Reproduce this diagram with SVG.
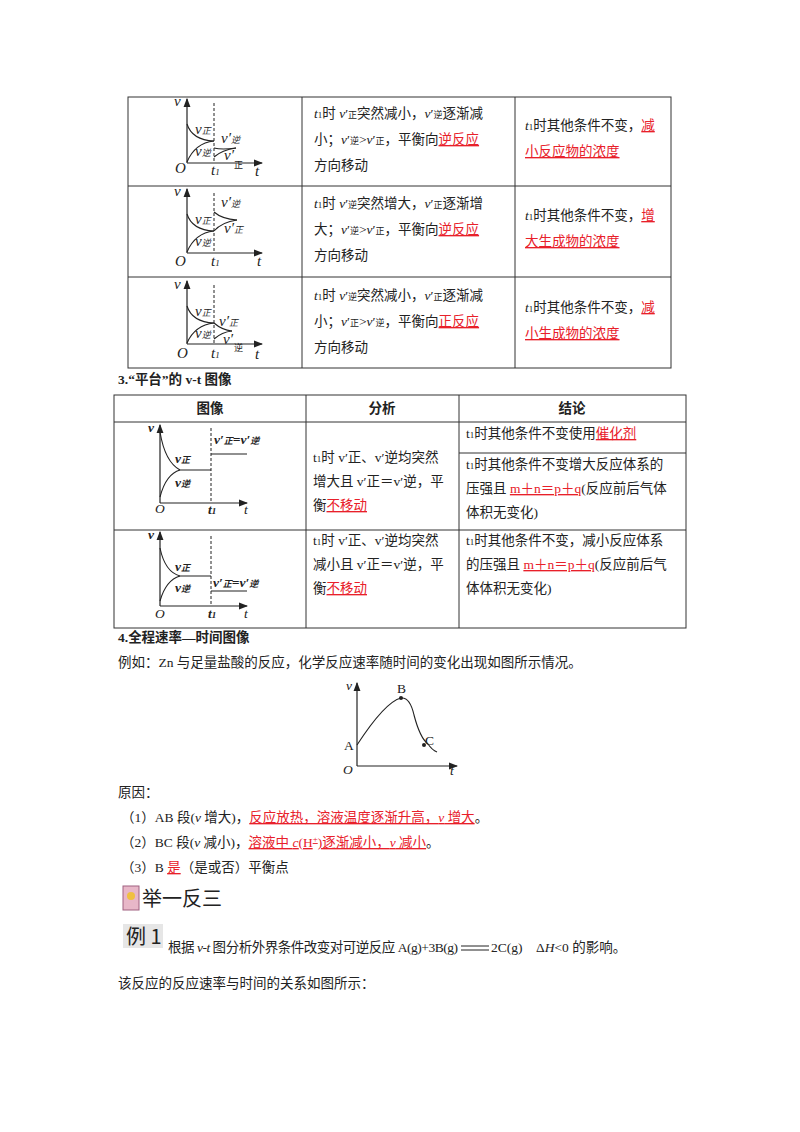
<svg xmlns="http://www.w3.org/2000/svg" width="800" height="1132" viewBox="0 0 800 1132">
<style>
text{font-family:"Liberation Serif","Noto Sans CJK SC",serif;font-size:13.5px;fill:#222}
.r{fill:#e8202a;text-decoration:underline}
.b{font-weight:bold}
.i{font-style:italic}
text.g{font-size:15px}
.s{font-size:9px}
.tb{fill:none;stroke:#333;stroke-width:1}
.ax{fill:none;stroke:#222;stroke-width:1.2}
.cv{fill:none;stroke:#222;stroke-width:1.1}
.ds{stroke:#222;stroke-width:1;stroke-dasharray:3,2}
</style>
<defs><marker id="ar" markerWidth="8" markerHeight="6" refX="7" refY="3" orient="auto"><path d="M0,0L8,3L0,6z" fill="#222"/></marker></defs>
<rect width="800" height="1132" fill="#fff"/>
<g id="table1">
<rect class="tb" x="128" y="97" width="543" height="271"/>
<line class="tb" x1="302" y1="97" x2="302" y2="368"/><line class="tb" x1="515" y1="97" x2="515" y2="368"/>
<line class="tb" x1="128" y1="186" x2="671" y2="186"/><line class="tb" x1="128" y1="277" x2="671" y2="277"/>
</g>
<g id="g1">
<path class="ax" d="M187,163V99" marker-end="url(#ar)"/><path class="ax" d="M187,163H262" marker-end="url(#ar)"/>
<line class="ds" x1="214" y1="103" x2="214" y2="163"/>
<path class="cv" d="M187,124Q192,140 214,141"/><path class="cv" d="M187,162Q195,143 214,141"/>
<path class="cv" d="M214,148Q222,150 236,148"/><path class="cv" d="M214,157Q222,150 236,148"/>
<text x="174" y="106" class="i g">v</text><text x="195" y="134" class="i g">v<tspan class="s">正</tspan></text>
<text x="195" y="156" class="i g">v<tspan class="s">逆</tspan></text><text x="221" y="143" class="i g">v′<tspan class="s">逆</tspan></text>
<text x="224" y="160" class="i g">v′</text><text x="234" y="168" class="s">正</text>
<text x="175" y="173" class="i g">O</text><text x="211" y="175" class="i g">t<tspan class="s">1</tspan></text><text x="255" y="176" class="i g">t</text>
</g>
<g id="g2">
<path class="ax" d="M187,253V189" marker-end="url(#ar)"/><path class="ax" d="M187,253H262" marker-end="url(#ar)"/>
<line class="ds" x1="214" y1="193" x2="214" y2="253"/>
<path class="cv" d="M187,214Q192,230 214,231"/><path class="cv" d="M187,252Q195,233 214,231"/>
<path class="cv" d="M214,212Q222,219 237,220"/><path class="cv" d="M214,231Q222,222 237,220"/>
<text x="174" y="196" class="i g">v</text><text x="195" y="224" class="i g">v<tspan class="s">正</tspan></text>
<text x="195" y="246" class="i g">v<tspan class="s">逆</tspan></text><text x="221" y="207" class="i g">v′<tspan class="s">逆</tspan></text>
<text x="224" y="233" class="i g">v′<tspan class="s">正</tspan></text>
<text x="175" y="266" class="i g">O</text><text x="211" y="266" class="i g">t<tspan class="s">1</tspan></text><text x="257" y="266" class="i g">t</text>
</g>
<g id="g3">
<path class="ax" d="M187,344V281" marker-end="url(#ar)"/><path class="ax" d="M187,344H262" marker-end="url(#ar)"/>
<line class="ds" x1="214" y1="285" x2="214" y2="344"/>
<path class="cv" d="M187,306Q192,322 214,323"/><path class="cv" d="M187,343Q195,325 214,323"/>
<path class="cv" d="M214,323Q222,330 232,331"/><path class="cv" d="M214,339Q222,332 232,331"/>
<text x="174" y="289" class="i g">v</text><text x="195" y="316" class="i g">v<tspan class="s">正</tspan></text>
<text x="195" y="338" class="i g">v<tspan class="s">逆</tspan></text><text x="219" y="326" class="i g">v′<tspan class="s">正</tspan></text>
<text x="223" y="344" class="i g">v′</text><text x="234" y="351" class="s">逆</text>
<text x="177" y="358" class="i g">O</text><text x="211" y="358" class="i g">t<tspan class="s">1</tspan></text><text x="255" y="359" class="i g">t</text>
</g>
<g id="t1text">
<text x="314" y="118"><tspan class="i">t</tspan><tspan class="s">1</tspan>时 <tspan class="i">v</tspan>′<tspan class="s">正</tspan>突然减小，<tspan class="i">v</tspan>′<tspan class="s">逆</tspan>逐渐减</text>
<text x="314" y="144">小；<tspan class="i">v</tspan>′<tspan class="s">逆</tspan>&gt;<tspan class="i">v</tspan>′<tspan class="s">正</tspan>，平衡向<tspan class="r">逆反应</tspan></text>
<text x="314" y="170">方向移动</text>
<text x="525" y="130"><tspan class="i">t</tspan><tspan class="s">1</tspan>时其他条件不变，<tspan class="r">减</tspan></text>
<text x="525" y="156" class="r">小反应物的浓度</text>
<text x="314" y="208"><tspan class="i">t</tspan><tspan class="s">1</tspan>时 <tspan class="i">v</tspan>′<tspan class="s">逆</tspan>突然增大，<tspan class="i">v</tspan>′<tspan class="s">正</tspan>逐渐增</text>
<text x="314" y="234">大；<tspan class="i">v</tspan>′<tspan class="s">逆</tspan>&gt;<tspan class="i">v</tspan>′<tspan class="s">正</tspan>，平衡向<tspan class="r">逆反应</tspan></text>
<text x="314" y="260">方向移动</text>
<text x="525" y="220"><tspan class="i">t</tspan><tspan class="s">1</tspan>时其他条件不变，<tspan class="r">增</tspan></text>
<text x="525" y="246" class="r">大生成物的浓度</text>
<text x="314" y="300"><tspan class="i">t</tspan><tspan class="s">1</tspan>时 <tspan class="i">v</tspan>′<tspan class="s">逆</tspan>突然减小，<tspan class="i">v</tspan>′<tspan class="s">正</tspan>逐渐减</text>
<text x="314" y="326">小；<tspan class="i">v</tspan>′<tspan class="s">正</tspan>&gt;<tspan class="i">v</tspan>′<tspan class="s">逆</tspan>，平衡向<tspan class="r">正反应</tspan></text>
<text x="314" y="352">方向移动</text>
<text x="525" y="312"><tspan class="i">t</tspan><tspan class="s">1</tspan>时其他条件不变，<tspan class="r">减</tspan></text>
<text x="525" y="338" class="r">小生成物的浓度</text>
</g>
<text x="118" y="384" class="b">3.“平台”的 v-t 图像</text>
<g id="table2">
<rect class="tb" x="114" y="395" width="572" height="233"/>
<line class="tb" x1="306" y1="395" x2="306" y2="628"/><line class="tb" x1="459" y1="395" x2="459" y2="628"/>
<line class="tb" x1="114" y1="422" x2="686" y2="422"/><line class="tb" x1="114" y1="530" x2="686" y2="530"/>
<line class="tb" x1="459" y1="453" x2="686" y2="453"/>
<text x="210" y="413" class="b" text-anchor="middle">图像</text>
<text x="382" y="413" class="b" text-anchor="middle">分析</text>
<text x="572" y="413" class="b" text-anchor="middle">结论</text>
</g>
<g id="g4">
<path class="ax" d="M160,503V425" marker-end="url(#ar)"/><path class="ax" d="M160,503H247" marker-end="url(#ar)"/>
<line class="ds" x1="211" y1="428" x2="211" y2="503"/>
<path class="cv" d="M160,432Q165,462 180,470H211"/><path class="cv" d="M160,497Q166,474 180,470"/>
<path class="cv" d="M211,454H247"/>
<text x="148" y="432" class="i b">v</text><text x="175" y="463" class="i b">v<tspan class="s">正</tspan></text>
<text x="175" y="487" class="i b">v<tspan class="s">逆</tspan></text><text x="214" y="444" class="i b">v′<tspan class="s">正</tspan>=v′<tspan class="s">逆</tspan></text>
<text x="155" y="513" class="i">O</text><text x="208" y="514" class="i b">t<tspan class="s">1</tspan></text><text x="244" y="514" class="i">t</text>
</g>
<g id="g5">
<path class="ax" d="M160,606V532" marker-end="url(#ar)"/><path class="ax" d="M160,606H247" marker-end="url(#ar)"/>
<line class="ds" x1="211" y1="536" x2="211" y2="606"/>
<path class="cv" d="M160,548Q165,572 180,576H211"/><path class="cv" d="M160,601Q166,580 180,576"/>
<path class="cv" d="M211,591H247"/>
<text x="148" y="539" class="i b">v</text><text x="175" y="571" class="i b">v<tspan class="s">正</tspan></text>
<text x="175" y="592" class="i b">v<tspan class="s">逆</tspan></text><text x="213" y="587" class="i b">v′<tspan class="s">正</tspan>=v′<tspan class="s">逆</tspan></text>
<text x="155" y="618" class="i">O</text><text x="208" y="618" class="i b">t<tspan class="s">1</tspan></text><text x="244" y="618" class="i">t</text>
</g>
<g id="t2text">
<text x="313" y="462">t<tspan class="s">1</tspan>时 v′正、v′逆均突然</text>
<text x="313" y="486">增大且 v′正＝v′逆，平</text>
<text x="313" y="510">衡<tspan class="r">不移动</tspan></text>
<text x="466" y="438">t<tspan class="s">1</tspan>时其他条件不变使用<tspan class="r">催化剂</tspan></text>
<text x="466" y="469">t<tspan class="s">1</tspan>时其他条件不变增大反应体系的</text>
<text x="466" y="493">压强且 <tspan class="r">m＋n＝p＋q</tspan>(反应前后气体</text>
<text x="466" y="517">体积无变化)</text>
<text x="313" y="545">t<tspan class="s">1</tspan>时 v′正、v′逆均突然</text>
<text x="313" y="569">减小且 v′正＝v′逆，平</text>
<text x="313" y="593">衡<tspan class="r">不移动</tspan></text>
<text x="466" y="545">t<tspan class="s">1</tspan>时其他条件不变，减小反应体系</text>
<text x="466" y="569">的压强且 <tspan class="r">m＋n＝p＋q</tspan>(反应前后气</text>
<text x="466" y="593">体体积无变化)</text>
</g>
<text x="118" y="642" class="b">4.全程速率—时间图像</text>
<text x="118" y="667">例如：Zn 与足量盐酸的反应，化学反应速率随时间的变化出现如图所示情况。</text>
<g id="g6">
<path class="ax" d="M357,766V683" marker-end="url(#ar)"/><path class="ax" d="M357,766H457" marker-end="url(#ar)"/>
<path class="cv" d="M357,745Q385,702 401,698Q410,697 414,715Q420,738 428,744Q432,750 437,752"/>
<circle cx="401" cy="698" r="2" fill="#222"/><circle cx="424" cy="745" r="2" fill="#222"/>
<text x="346" y="690" class="i">v</text><text x="397" y="693">B</text><text x="344" y="750">A</text><text x="425" y="745">C</text>
<text x="343" y="774" class="i">O</text><text x="450" y="775" class="i">t</text>
</g>
<text x="118" y="797">原因：</text>
<text x="121" y="822">（1）AB 段(<tspan class="i">v</tspan> 增大)，<tspan class="r">反应放热，溶液温度逐渐升高，<tspan class="i">v</tspan> 增大</tspan>。</text>
<text x="121" y="847">（2）BC 段(<tspan class="i">v</tspan> 减小)，<tspan class="r">溶液中 <tspan class="i">c</tspan>(H<tspan class="s" dy="-5">+</tspan><tspan dy="5">)逐渐减小，</tspan><tspan class="i">v</tspan> 减小</tspan>。</text>
<text x="121" y="872">（3）B <tspan class="r">是</tspan>（是或否）平衡点</text>
<g id="badge">
<rect x="123" y="886" width="16" height="24" fill="#e8b7c8" stroke="#a06080"/>
<circle cx="131" cy="896" r="4" fill="#f0c040"/>
<text x="142" y="906" style="font-size:20px;font-family:'Noto Sans CJK SC',sans-serif">举一反三</text>
</g>
<rect x="123" y="924" width="40" height="24" fill="#e6e6e6"/>
<text x="126" y="944" style="font-size:20px;font-family:'Noto Sans CJK SC',sans-serif">例 1</text>
<text x="168" y="952" textLength="290" lengthAdjust="spacing">根据 <tspan class="i">v</tspan>-<tspan class="i">t</tspan> 图分析外界条件改变对可逆反应 A(g)+3B(g)</text>
<line x1="461" y1="946" x2="489" y2="946" stroke="#222"/><line x1="461" y1="950" x2="489" y2="950" stroke="#222"/>
<text x="491" y="952">2C(g)　Δ<tspan class="i">H</tspan>&lt;0 的影响。</text>
<text x="118" y="988">该反应的反应速率与时间的关系如图所示：</text>
</svg>
